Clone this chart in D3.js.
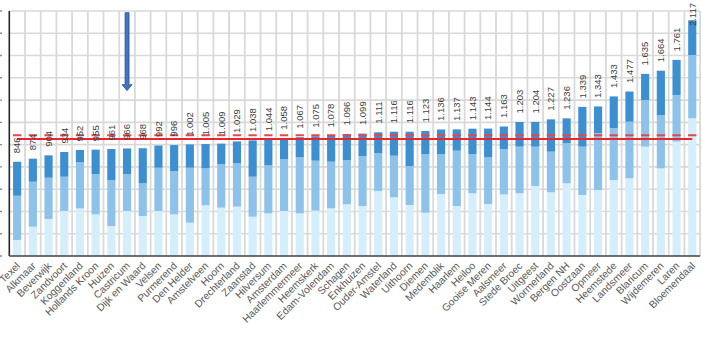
<!DOCTYPE html>
<html><head><meta charset="utf-8">
<script src="https://cdn.jsdelivr.net/npm/d3@7"></script>
<style>html,body{margin:0;padding:0;background:#fff;}svg{display:block;}</style>
</head><body>
<svg id="chart" width="702" height="341"></svg>
<script>
const categories = ["Texel","Alkmaar","Beverwijk","Zandvoort","Koggenland","Hollands Kroon","Huizen","Castricum","Dijk en Waard","Velsen","Purmerend","Den Helder","Amstelveen","Hoorn","Drechterland","Zaanstad","Hilversum","Amsterdam","Haarlemmermeer","Heemskerk","Edam-Volendam","Schagen","Enkhuizen","Ouder-Amstel","Waterland","Uithoorn","Diemen","Medemblik","Haarlem","Heiloo","Gooise Meren","Aalsmeer","Stede Broec","Uitgeest","Wormerland","Bergen NH","Oostzaan","Opmeer","Heemstede","Landsmeer","Blaricum","Wijdemeren","Laren","Bloemendaal"];
const lightSeg  = [144,263,332,404,428,374,269,404,359,404,374,299,455,434,443,353,383,404,383,407,428,464,449,584,527,458,389,557,449,563,467,554,563,629,572,653,548,593,682,698,982,787,1027,1237];
const mediumSeg = [397,404,371,308,413,362,413,332,294,389,389,494,332,392,389,359,431,464,503,449,419,398,449,338,374,350,527,359,497,353,419,407,419,353,365,359,434,509,465,508,419,479,419,568];
const darkSeg   = [305,207,201,222,111,219,279,230,315,199,233,209,218,183,197,326,230,190,181,219,231,234,201,189,215,308,207,220,191,227,258,202,221,222,290,224,357,241,286,271,234,398,315,312];
const totalLabels = ["846","874","904","934","952","955","961","966","968","992","996","1.002","1.005","1.009","1.029","1.038","1.044","1.058","1.067","1.075","1.078","1.096","1.099","1.111","1.116","1.116","1.123","1.136","1.137","1.143","1.144","1.163","1.203","1.204","1.227","1.236","1.339","1.343","1.433","1.477","1.635","1.664","1.761","2.117"];
const yTicks = [0,200,400,600,800,1000,1200,1400,1600,1800,2000,2200];
const refSolid = 1051;
const refDashed = 1084;
const arrowCategory = "Castricum";
const arrowFrom = 2185, arrowTo = 1485;

const svg = d3.select("#chart");
const x0 = 9.3, x1 = 700.1, yTop = 11, yBot = 256;
const x = d3.scaleBand().domain(categories).range([x0, x1]).paddingInner(0.48).paddingOuter(0.24);
const y = d3.scaleLinear().domain([0, 2200]).range([yBot, yTop]);
const step = x.step();

const data = categories.map((c, i) => ({cat: c, light: lightSeg[i], medium: mediumSeg[i], dark: darkSeg[i], label: totalLabels[i]}));
const stack = d3.stack().keys(["light","medium","dark"])(data);
const colors = {light: "#d5eefb", medium: "#8dc3eb", dark: "#3c8fd1"};

// gridlines
const grid = svg.append("g");
grid.selectAll("line.h").data(yTicks.slice(1)).join("line")
  .attr("x1", x0).attr("x2", x1).attr("y1", d => y(d)).attr("y2", d => y(d))
  .attr("stroke", "#d9d9d9").attr("stroke-width", 1.6);
grid.selectAll("line.v").data(d3.range(1, categories.length + 1)).join("line")
  .attr("x1", i => x0 + i * step).attr("x2", i => x0 + i * step)
  .attr("y1", yTop).attr("y2", yBot)
  .attr("stroke", "#d9d9d9").attr("stroke-width", 1.8);
// cut-off tick stubs at far left
svg.append("g").selectAll("line").data(yTicks).join("line")
  .attr("x1", 0).attr("x2", 2).attr("y1", d => y(d)).attr("y2", d => y(d))
  .attr("stroke", "#8c8c8c").attr("stroke-width", 1.4);

// bars
svg.append("g").selectAll("g").data(stack).join("g")
  .attr("fill", d => colors[d.key])
  .selectAll("rect").data(d => d).join("rect")
  .attr("x", d => x(d.data.cat)).attr("width", x.bandwidth())
  .attr("y", d => y(d[1])).attr("height", d => y(d[0]) - y(d[1]));

// axes lines
svg.append("line").attr("x1", x0).attr("x2", x0).attr("y1", yTop).attr("y2", yBot)
  .attr("stroke", "#262626").attr("stroke-width", 1.6);
svg.append("line").attr("x1", x0).attr("x2", x1).attr("y1", yBot).attr("y2", yBot)
  .attr("stroke", "#404040").attr("stroke-width", 1.6);

// reference lines
const cFirst = x(categories[0]) + x.bandwidth() / 2;
const cLast = x(categories[categories.length - 1]) + x.bandwidth() / 2;
const dashLen = step * 0.53, gapLen = step - dashLen;
svg.append("line").attr("x1", cFirst - dashLen / 2).attr("x2", cLast + dashLen / 2)
  .attr("y1", y(refDashed)).attr("y2", y(refDashed))
  .attr("stroke", "#e8454a").attr("stroke-width", 2)
  .attr("stroke-dasharray", `${dashLen},${gapLen}`);
svg.append("line").attr("x1", cFirst).attr("x2", cLast)
  .attr("y1", y(refSolid)).attr("y2", y(refSolid))
  .attr("stroke", "#e8262b").attr("stroke-width", 2);

// value labels
const totals = data.map(d => d.light + d.medium + d.dark);
svg.append("g").selectAll("text").data(data).join("text")
  .attr("font-family", "Liberation Sans, Arial, sans-serif").attr("font-size", 9.5)
  .attr("fill", "#404040").attr("text-anchor", "start").attr("dy", "0.35em")
  .text(d => d.label)
  .each(function(d, i) {
    const len = this.getComputedTextLength();
    const cx = x(d.cat) + x.bandwidth() / 2;
    const start = Math.max(y(totals[i]) - 8.5, 3 + len);
    d3.select(this).attr("transform", `translate(${cx},${start}) rotate(-90)`);
  });

// category labels
svg.append("g").selectAll("text").data(categories).join("text")
  .attr("font-family", "Liberation Sans, Arial, sans-serif").attr("font-size", 10.3)
  .attr("fill", "#595959").attr("text-anchor", "end").attr("dy", "0.35em")
  .attr("transform", d => `translate(${x(d) + x.bandwidth() / 2 + 1},${yBot + 8}) rotate(-45)`)
  .text(d => d);

// arrow
const ax = x(arrowCategory) + x.bandwidth() / 2;
const yA = y(arrowFrom), yB = y(arrowTo), head = 6, sw = 2, hw = 5;
svg.append("path")
  .attr("d", `M${ax - sw},${yA} L${ax + sw},${yA} L${ax + sw},${yB - head} L${ax + hw},${yB - head} L${ax},${yB} L${ax - hw},${yB - head} L${ax - sw},${yB - head} Z`)
  .attr("fill", "#4472c4").attr("stroke", "#2f528f").attr("stroke-width", 0.8);
</script>
</body></html>
